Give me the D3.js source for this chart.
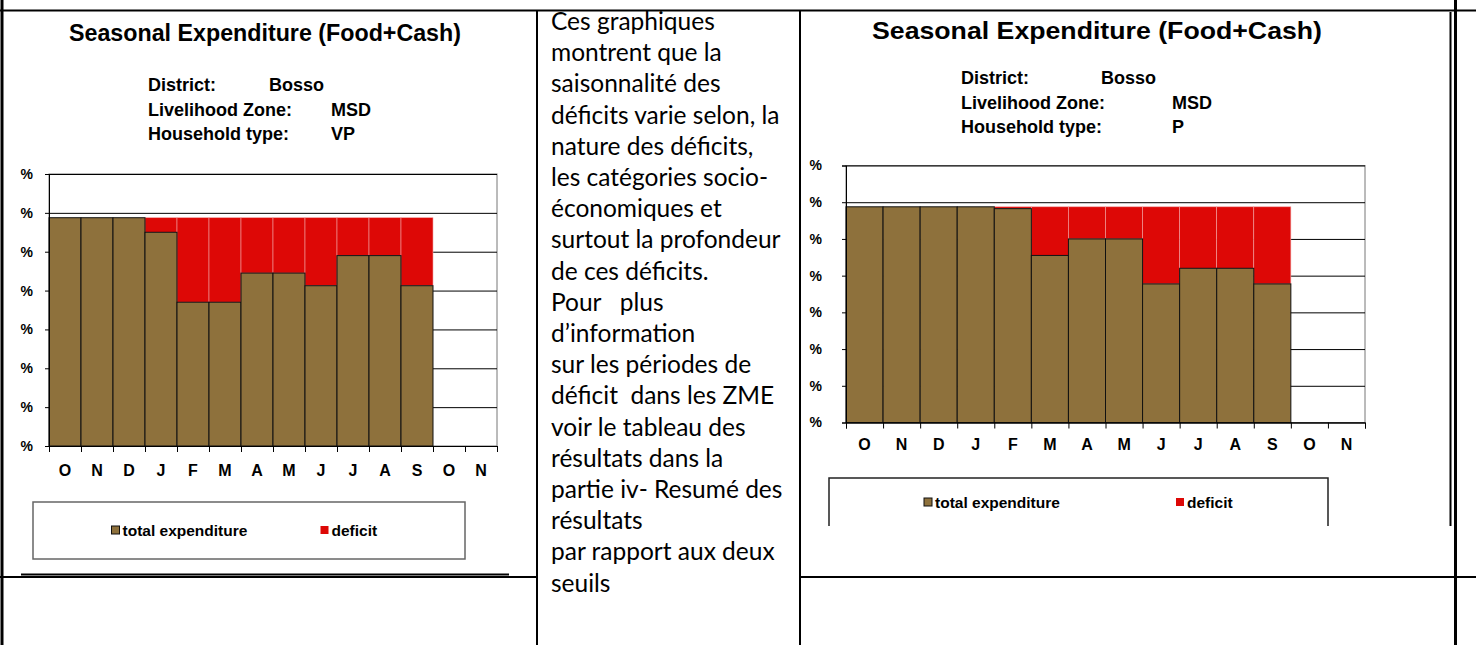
<!DOCTYPE html>
<html lang="fr">
<head>
    <meta charset="UTF-8">
    <title>Seasonal Expenditure</title>
    <script src="https://d3js.org/d3.v7.min.js"></script>
    <style>
        body { margin: 0; background: #fff; }
        text { font-family: "Liberation Sans", Arial, sans-serif; }
        .note { font-family: Lato, "Open Sans", sans-serif; font-size: 24.5px; }
    </style>
</head>
<body>
<svg id="page" width="1476" height="645"></svg>

<script>
    // ---- data ----
    const months = ['O', 'N', 'D', 'J', 'F', 'M', 'A', 'M', 'J', 'J', 'A', 'S', 'O', 'N'];
    const yTicks = [0, 20, 40, 60, 80, 100, 120, 140];

    // very poor households (VP)
    const vpTotal   = [117.5, 117.5, 117.5, 110, 74, 74, 89, 89, 82.5, 98, 98, 82.5];
    const vpDeficit = [0, 0, 0, 7.5, 43.5, 43.5, 28.5, 28.5, 35, 19.5, 19.5, 35];

    // poor households (P)
    const pTotal   = [117.5, 117.5, 117.5, 117.5, 116.5, 91, 100, 100, 75.5, 84, 84, 75.5];
    const pDeficit = [0, 0, 0, 0, 1, 26.5, 17.5, 17.5, 42, 33.5, 33.5, 42];

    const noteLines = [
        'Ces graphiques',
        'montrent que la',
        'saisonnalité des',
        'déficits varie selon, la',
        'nature des déficits,',
        'les catégories socio-',
        'économiques et',
        'surtout la profondeur',
        'de ces déficits.',
        'Pour   plus',
        'd’information',
        'sur les périodes de',
        'déficit  dans les ZME',
        'voir le tableau des',
        'résultats dans la',
        'partie iv- Resumé des',
        'résultats',
        'par rapport aux deux',
        'seuils'
    ];

    const BROWN = '#8e713c';
    const RED = '#dd0806';
    const svg = d3.select('#page');

    // ---- table grid ----
    const grid = svg.append('g').attr('stroke', '#000').attr('fill', 'none');
    grid.append('line').attr('x1', 0).attr('x2', 1476).attr('y1', 10.5).attr('y2', 10.5).attr('stroke-width', 2);
    grid.append('line').attr('x1', 0).attr('x2', 538).attr('y1', 577).attr('y2', 577).attr('stroke-width', 2);
    grid.append('line').attr('x1', 800).attr('x2', 1476).attr('y1', 577).attr('y2', 577).attr('stroke-width', 2);
    grid.append('line').attr('x1', 2).attr('x2', 2).attr('y1', 0).attr('y2', 645).attr('stroke-width', 3);
    grid.append('line').attr('x1', 537).attr('x2', 537).attr('y1', 10).attr('y2', 645).attr('stroke-width', 2);
    grid.append('line').attr('x1', 800).attr('x2', 800).attr('y1', 10).attr('y2', 645).attr('stroke-width', 2);
    grid.append('line').attr('x1', 1455.5).attr('x2', 1455.5).attr('y1', 0).attr('y2', 645).attr('stroke-width', 3);
    grid.append('line').attr('x1', 1450.5).attr('x2', 1450.5).attr('y1', 12).attr('y2', 526).attr('stroke-width', 2);
    // bottom edge of the left chart object
    grid.append('line').attr('x1', 21).attr('x2', 509).attr('y1', 574.5).attr('y2', 574.5).attr('stroke-width', 2);

    // ---- middle column text ----
    svg.append('g')
        .selectAll('text')
        .data(noteLines)
        .join('text')
        .attr('class', 'note')
        .attr('x', 551)
        .attr('y', (d, i) => 30 + i * 31.2)
        .attr('xml:space', 'preserve')
        .style('white-space', 'pre')
        .text(d => d);

    const drawChart = (cfg) => {
        const g = svg.append('g');

        // titles
        g.append('text')
            .attr('x', cfg.titleX).attr('y', cfg.titleY)
            .attr('text-anchor', 'middle')
            .attr('font-size', cfg.titleSize).attr('font-weight', 'bold')
            .attr('textLength', cfg.titleLen).attr('lengthAdjust', 'spacingAndGlyphs')
            .text('Seasonal Expenditure (Food+Cash)');

        const info = [
            ['District:', 'Bosso', cfg.valX1],
            ['Livelihood Zone:', 'MSD', cfg.valX2],
            ['Household type:', cfg.hhType, cfg.valX2]
        ];
        info.forEach((row, i) => {
            const yy = cfg.infoY + i * cfg.infoStep;
            g.append('text').attr('x', cfg.infoX).attr('y', yy)
                .attr('font-size', cfg.infoSize).attr('font-weight', 'bold').text(row[0]);
            g.append('text').attr('x', row[2]).attr('y', yy)
                .attr('font-size', cfg.infoSize).attr('font-weight', 'bold').text(row[1]);
        });

        // scales
        const x = d3.scaleBand().domain(d3.range(months.length)).range([cfg.left, cfg.right]).padding(0);
        const xEdge = d3.scaleLinear().domain([0, months.length]).range([cfg.left, cfg.right]);
        const y = d3.scaleLinear().domain([0, 140]).range([cfg.bottom, cfg.top]);

        // plot frame + gridlines
        g.append('rect')
            .attr('x', cfg.left).attr('y', cfg.top)
            .attr('width', cfg.right - cfg.left).attr('height', cfg.bottom - cfg.top)
            .attr('fill', '#fff').attr('stroke', '#777').attr('stroke-width', 1);
        g.append('g')
            .attr('transform', `translate(${cfg.left},0)`)
            .call(d3.axisLeft(y).tickValues(yTicks).tickSize(-(cfg.right - cfg.left)).tickFormat(''))
            .call(a => a.select('.domain').remove())
            .selectAll('line').attr('stroke', '#000');

        // stacked bars
        const rows = cfg.total.map((t, i) => ({i: i, total: t, deficit: cfg.deficit[i]}));
        g.append('g').selectAll('rect.deficit')
            .data(rows.filter(d => d.deficit > 0))
            .join('rect')
            .attr('class', 'deficit')
            .attr('x', d => x(d.i))
            .attr('width', x.bandwidth())
            .attr('y', d => y(d.total + d.deficit))
            .attr('height', d => y(d.total) - y(d.total + d.deficit))
            .attr('fill', RED)
            .attr('stroke', '#f2a0a0').attr('stroke-width', 0.6);
        g.append('g').selectAll('rect.total')
            .data(rows)
            .join('rect')
            .attr('class', 'total')
            .attr('x', d => x(d.i))
            .attr('width', x.bandwidth())
            .attr('y', d => y(d.total))
            .attr('height', d => y(0) - y(d.total))
            .attr('fill', BROWN)
            .attr('stroke', '#111').attr('stroke-width', 1);

        // y axis; only the "%" sign of each label shows in the original
        const yAxis = g.append('g')
            .attr('transform', `translate(${cfg.left},0)`)
            .call(d3.axisLeft(y).tickValues(yTicks).tickSize(4)
                .tickPadding(cfg.left - cfg.labelEnd - 4).tickFormat(() => '%'));
        yAxis.select('.domain').attr('stroke', '#000');
        yAxis.selectAll('line').attr('stroke', '#000');
        yAxis.selectAll('text')
            .attr('font-size', 14).attr('font-weight', 'bold').attr('fill', '#000')
            .attr('font-family', '"Liberation Sans", Arial, sans-serif');

        // x axis: boundary ticks + centred labels
        g.append('g')
            .attr('transform', `translate(0,${cfg.bottom})`)
            .call(d3.axisBottom(xEdge).tickValues(d3.range(months.length + 1)).tickSize(6).tickFormat(''))
            .selectAll('line,path').attr('stroke', '#000');
        const xAxis = g.append('g')
            .attr('transform', `translate(0,${cfg.bottom})`)
            .call(d3.axisBottom(x).tickSize(0).tickPadding(cfg.monthPad).tickFormat(i => months[i]));
        xAxis.select('.domain').remove();
        xAxis.selectAll('text')
            .attr('font-size', 16).attr('font-weight', 'bold').attr('fill', '#000')
            .attr('font-family', '"Liberation Sans", Arial, sans-serif');

        // legend
        const lg = g.append('g');
        if (cfg.legendOpen) {
            lg.append('path')
                .attr('d', `M${cfg.lgX},${cfg.lgBottom}V${cfg.lgY}H${cfg.lgX + cfg.lgW}V${cfg.lgBottom}`)
                .attr('fill', 'none').attr('stroke', '#222').attr('stroke-width', 1.5);
        } else {
            lg.append('rect')
                .attr('x', cfg.lgX).attr('y', cfg.lgY)
                .attr('width', cfg.lgW).attr('height', cfg.lgBottom - cfg.lgY)
                .attr('fill', 'none').attr('stroke', '#666').attr('stroke-width', 1.5);
        }
        const items = [['total expenditure', BROWN, '#111', cfg.lgItem1], ['deficit', RED, 'none', cfg.lgItem2]];
        items.forEach(it => {
            lg.append('rect')
                .attr('x', it[3]).attr('y', cfg.lgTextY - 10)
                .attr('width', 8).attr('height', 8)
                .attr('fill', it[1]).attr('stroke', it[2]).attr('stroke-width', 1);
            lg.append('text')
                .attr('x', it[3] + 11).attr('y', cfg.lgTextY)
                .attr('font-size', 15.5).attr('font-weight', 'bold')
                .text(it[0]);
        });
    };

    drawChart({
        id: 'vp', hhType: 'VP', total: vpTotal, deficit: vpDeficit,
        titleX: 265, titleY: 41, titleSize: 23, titleLen: 392,
        infoX: 148, valX1: 269, valX2: 331, infoY: 91, infoStep: 24.5, infoSize: 18,
        left: 49, right: 497, top: 174, bottom: 446, labelEnd: 33, monthPad: 19,
        lgX: 33, lgY: 502, lgW: 432, lgBottom: 559, lgItem1: 111.5, lgItem2: 320.5, lgTextY: 536, legendOpen: false
    });

    drawChart({
        id: 'p', hhType: 'P', total: pTotal, deficit: pDeficit,
        titleX: 1097, titleY: 39, titleSize: 24, titleLen: 450,
        infoX: 961, valX1: 1101, valX2: 1172, infoY: 84, infoStep: 24.5, infoSize: 18,
        left: 846, right: 1365, top: 165.5, bottom: 422.5, labelEnd: 822, monthPad: 16,
        lgX: 829, lgY: 478, lgW: 499, lgBottom: 526, lgItem1: 924, lgItem2: 1176, lgTextY: 508, legendOpen: true
    });
</script>
</body>
</html>
